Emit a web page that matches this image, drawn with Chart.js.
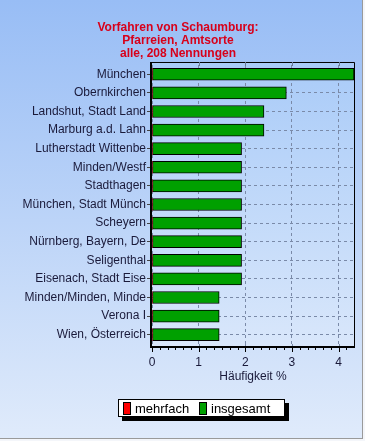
<!DOCTYPE html>
<html>
<head>
<meta charset="utf-8">
<script src="https://cdn.jsdelivr.net/npm/chart.js@4/dist/chart.umd.min.js"></script>
<style>
  html, body { margin: 0; padding: 0; background: #f4f6fa; }
  #wrap { width: 365px; height: 441px; position: relative; }
</style>
</head>
<body>
<div id="wrap"><canvas id="c" width="365" height="441"></canvas></div>
<script>
// ---- data ----
const titleLines = ["Vorfahren von Schaumburg:", "Pfarreien, Amtsorte", "alle, 208 Nennungen"];
const categories = [
  "München", "Obernkirchen", "Landshut, Stadt Land", "Marburg a.d. Lahn",
  "Lutherstadt Wittenbe", "Minden/Westf", "Stadthagen", "München, Stadt Münch",
  "Scheyern", "Nürnberg, Bayern, De", "Seligenthal", "Eisenach, Stadt Eise",
  "Minden/Minden, Minde", "Verona I", "Wien, Österreich"
];
const seriesNames = ["mehrfach", "insgesamt"];
const mehrfach = [0, 0, 0, 0, 0, 0, 0, 0, 0, 0, 0, 0, 0, 0, 0];
const insgesamt = [4.33, 2.88, 2.40, 2.40, 1.92, 1.92, 1.92, 1.92, 1.92, 1.92, 1.92, 1.92, 1.44, 1.44, 1.44];
const xTickValues = [0, 1, 2, 3, 4];
const xMax = 4.33;
const xAxisTitle = "Häufigkeit %";

const FONT = "'Liberation Sans', Arial, sans-serif";
const TEXT = "#1a1a3a";
const GRID = "#7a8aa8";
const FRAME_GAP = 3; // frame sits a little outside the category band

const decor = {
  id: 'decor',
  beforeDraw(chart) {
    const ctx = chart.ctx, W = chart.width, H = chart.height, a = chart.chartArea;
    const top = a.top - FRAME_GAP, bottom = a.bottom + FRAME_GAP;
    ctx.save();
    let g = ctx.createLinearGradient(0, 0, 0, H);
    g.addColorStop(0, '#98bdf5');
    g.addColorStop(1, '#e0ebfb');
    ctx.fillStyle = g;
    ctx.fillRect(0, 0, W, H);
    g = ctx.createLinearGradient(0, top, 0, bottom);
    g.addColorStop(0, '#a9cbf8');
    g.addColorStop(1, '#d9e7fb');
    ctx.fillStyle = g;
    ctx.fillRect(a.left, top, a.right - a.left, bottom - top);
    // outer grey frame edge (right / bottom)
    ctx.fillStyle = '#f4f6fa';
    ctx.fillRect(363, 0, 2, H);
    ctx.fillRect(0, 439, W, 2);
    ctx.strokeStyle = '#9a9a9a';
    ctx.lineWidth = 1;
    ctx.beginPath();
    ctx.moveTo(362.5, 0); ctx.lineTo(362.5, 439);
    ctx.moveTo(0, 438.5); ctx.lineTo(363, 438.5);
    ctx.stroke();
    ctx.restore();
  },
  afterDraw(chart) {
    const ctx = chart.ctx, a = chart.chartArea, xs = chart.scales.x;
    const top = a.top - FRAME_GAP, bottom = a.bottom + FRAME_GAP;
    ctx.save();
    // vertical grid extensions into the frame gap
    ctx.strokeStyle = GRID;
    ctx.lineWidth = 1;
    ctx.beginPath();
    xTickValues.forEach(v => {
      if (v === 0) return;
      const px = Math.round(xs.getPixelForValue(v)) + 0.5;
      ctx.moveTo(px, a.bottom); ctx.lineTo(px, bottom);
    });
    ctx.stroke();
    // top & right frame
    ctx.strokeStyle = '#000';
    ctx.beginPath();
    ctx.moveTo(a.left, top + 0.5); ctx.lineTo(a.right + 0.5, top + 0.5);
    ctx.lineTo(a.right + 0.5, bottom);
    ctx.stroke();
    // thick left & bottom axes
    ctx.fillStyle = '#000';
    ctx.fillRect(a.left - 2, top, 2, bottom - top + 1);
    ctx.fillRect(a.left - 2, bottom - 1, a.right - a.left + 3, 2);
    // top inner ticks at major values
    ctx.strokeStyle = '#6a7a98';
    ctx.beginPath();
    xTickValues.forEach(v => {
      if (v === 0) return;
      const px = Math.round(xs.getPixelForValue(v)) + 0.5;
      ctx.moveTo(px, top); ctx.lineTo(px, top + 4);
    });
    ctx.stroke();
    // major and minor ticks below the x axis
    ctx.strokeStyle = '#000';
    ctx.beginPath();
    for (let k = 0; k < 27; k++) {
      const v = k / 6;
      if (v > xMax) break;
      const major = Math.abs(v - Math.round(v)) < 1e-6;
      const px = Math.round(xs.getPixelForValue(v)) + 0.5;
      ctx.moveTo(px, bottom + 1); ctx.lineTo(px, bottom + (major ? 5 : 3));
    }
    ctx.stroke();
    // legend
    const L = 118, T = 399, Wd = 167, Hd = 18;
    ctx.fillStyle = '#000';
    ctx.fillRect(L + 4, T + 4, Wd, Hd);
    ctx.fillStyle = '#fff';
    ctx.fillRect(L, T, Wd, Hd);
    ctx.strokeStyle = '#000';
    ctx.strokeRect(L + 0.5, T + 0.5, Wd - 1, Hd - 1);
    ctx.font = '13px ' + FONT;
    ctx.textBaseline = 'middle';
    ctx.textAlign = 'left';
    const items = chart.data.datasets.map(d => ({ label: d.label, color: d.backgroundColor }));
    const starts = [123, 199];
    items.forEach((it, i) => {
      const x = starts[i];
      ctx.fillStyle = it.color;
      ctx.fillRect(x, T + 3, 7, 13);
      ctx.strokeStyle = '#000';
      ctx.strokeRect(x + 0.5, T + 3.5, 7, 12);
      ctx.fillStyle = '#000';
      ctx.fillText(it.label, x + 12, T + 10);
    });
    ctx.restore();
  }
};

new Chart(document.getElementById('c'), {
  type: 'bar',
  data: {
    labels: categories,
    datasets: [
      { label: seriesNames[0], data: mehrfach, backgroundColor: '#ff0000', borderColor: '#000', borderWidth: 0, grouped: false, barThickness: 12 },
      { label: seriesNames[1], data: insgesamt, backgroundColor: '#00a000', borderColor: '#000', borderWidth: 1, borderSkipped: false, grouped: false, barThickness: 12 }
    ]
  },
  options: {
    indexAxis: 'y',
    responsive: false,
    animation: false,
    devicePixelRatio: 1,
    layout: { padding: { left: 2, right: 11, top: 0, bottom: 57 } },
    plugins: {
      legend: { display: false },
      tooltip: { enabled: false },
      title: {
        display: true,
        text: titleLines,
        color: '#d8001a',
        font: { family: FONT, size: 12, weight: 'bold', lineHeight: 1.083 },
        padding: { top: 21, bottom: 5 }
      }
    },
    scales: {
      x: {
        type: 'linear',
        min: 0,
        max: xMax,
        afterFit(s) { s.height = 40; },
        afterBuildTicks(s) { s.ticks = xTickValues.map(v => ({ value: v })); },
        ticks: { color: TEXT, font: { family: FONT, size: 12 }, padding: 11 },
        grid: { color: GRID, lineWidth: 1, drawTicks: false },
        border: { display: false, dash: [3, 3] },
        title: { display: true, text: xAxisTitle, color: TEXT, font: { family: FONT, size: 12 }, padding: { top: 2, bottom: 0 } }
      },
      y: {
        type: 'category',
        offset: true,
        afterFit(s) { s.width = 150; },
        ticks: { color: TEXT, font: { family: FONT, size: 12 }, padding: 1, autoSkip: false },
        grid: { offset: false, color: GRID, lineWidth: 1, tickLength: 5, tickColor: '#444', drawTicks: true },
        border: { display: false, dash: [3, 3] }
      }
    }
  },
  plugins: [decor]
});
</script>
</body>
</html>
